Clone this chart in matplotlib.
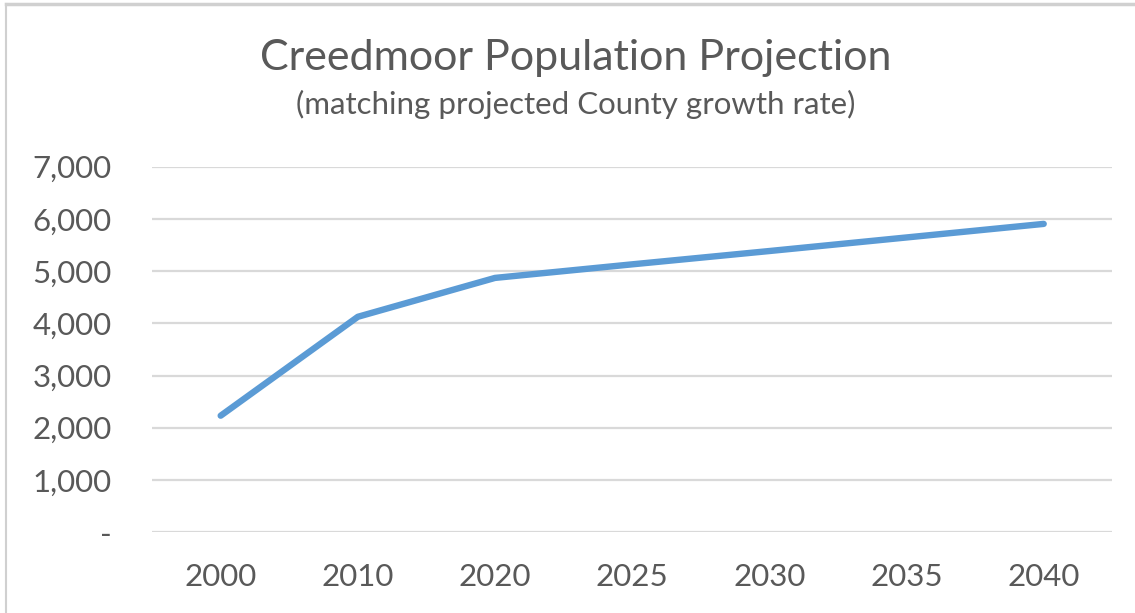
import matplotlib
matplotlib.use("Agg")
import matplotlib.pyplot as plt
from matplotlib.lines import Line2D
from matplotlib.ticker import FuncFormatter

# Creedmoor population, census years then projections
years = ["2000", "2010", "2020", "2025", "2030", "2035", "2040"]
population = [2230, 4125, 4870, 5130, 5385, 5645, 5905]

y_ticks = [0, 1000, 2000, 3000, 4000, 5000, 6000, 7000]

text_color = "#595959"
line_color = "#5B9BD5"
grid_color = "#D9D9D9"

plt.rcParams["font.family"] = ["Lato", "DejaVu Sans"]

fig = plt.figure(figsize=(11.35, 6.13), dpi=100)
ax = fig.add_axes([0.134, 0.132, 0.846, 0.596])

x = list(range(len(years)))
ax.plot(x, population, color=line_color, linewidth=4.6,
        solid_capstyle="round", solid_joinstyle="round", zorder=3)

ax.set_xlim(-0.5, len(years) - 0.5)
ax.set_ylim(0, 7000)
ax.set_xticks(x)
ax.set_xticklabels(years)
ax.set_yticks(y_ticks)
ax.yaxis.set_major_formatter(FuncFormatter(lambda v, p: "-" if v == 0 else f"{int(v):,}"))

ax.grid(axis="y", color=grid_color, linewidth=1.6)
ax.set_axisbelow(True)
for s in ax.spines.values():
    s.set_visible(False)
ax.tick_params(axis="both", length=0, colors=text_color, labelsize=22.5)
ax.tick_params(axis="y", pad=29)
ax.tick_params(axis="x", pad=22)

fig.text(0.507, 0.906, "Creedmoor Population Projection", ha="center", va="center",
         fontsize=31, color=text_color)
fig.text(0.507, 0.829, "(matching projected County growth rate)", ha="center", va="center",
         fontsize=22.5, color=text_color)

# thin frame along the top and left edges
fig.add_artist(Line2D([0.005, 1.0], [0.994, 0.994], transform=fig.transFigure,
                      color="#D0D0D0", linewidth=2.5))
fig.add_artist(Line2D([0.005, 0.005], [0.0, 0.994], transform=fig.transFigure,
                      color="#D0D0D0", linewidth=1.5))

fig.savefig("out.png", dpi=100)
